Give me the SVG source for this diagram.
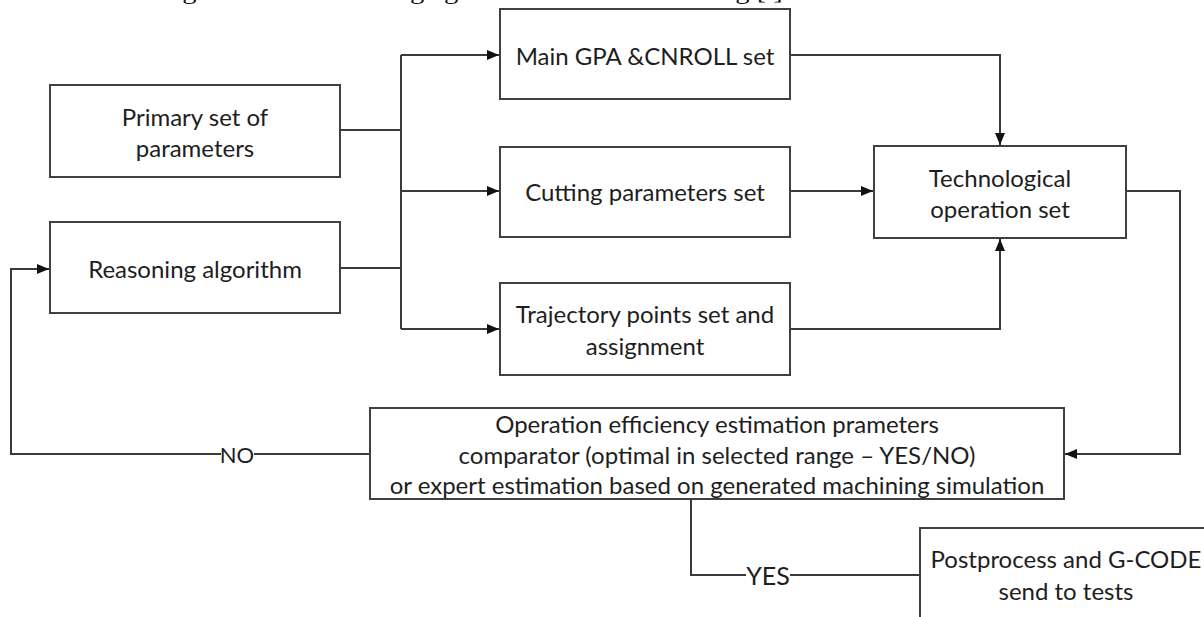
<svg xmlns="http://www.w3.org/2000/svg" width="1204" height="617" viewBox="0 0 1204 617">
<defs>
<style>
.box{fill:#fff;stroke:#404040;stroke-width:2}
.ln{fill:none;stroke:#3a3a3a;stroke-width:2}
.t{font-family:Lato,"Open Sans","Liberation Sans",sans-serif;font-size:24px;fill:#1e1e1e;text-anchor:middle;dominant-baseline:central}
.cap{font-family:"Liberation Serif",serif;font-size:24px;fill:#111}
</style>
<marker id="arr" viewBox="0 0 12 10" refX="12" refY="5" markerWidth="12" markerHeight="10" markerUnits="userSpaceOnUse" orient="auto">
<path d="M0,0 L12,5 L0,10 Z" fill="#111"/>
</marker>
</defs>
<rect width="1204" height="617" fill="#fff"/>
<text class="cap" x="30" y="-1" textLength="760" lengthAdjust="spacingAndGlyphs">manufacturing based on knowledge gained from CNC learning [ ].</text>

<g id="connectors">
<path class="ln" d="M340,130 H401"/>
<path class="ln" d="M340,268 H401"/>
<path class="ln" d="M401,55 V329"/>
<path class="ln" d="M401,55 H499" marker-end="url(#arr)"/>
<path class="ln" d="M401,191 H499" marker-end="url(#arr)"/>
<path class="ln" d="M401,329 H499" marker-end="url(#arr)"/>
<path class="ln" d="M790,55 H1000 V145" marker-end="url(#arr)"/>
<path class="ln" d="M790,191 H873" marker-end="url(#arr)"/>
<path class="ln" d="M790,329 H1000 V239" marker-end="url(#arr)"/>
<path class="ln" d="M1126,191 H1180 V454 H1065" marker-end="url(#arr)"/>
<path class="ln" d="M370,454 H254"/>
<path class="ln" d="M221,454 H11 V269 H49" marker-end="url(#arr)"/>
<text class="t" x="237" y="454" style="font-size:22px">NO</text>
<path class="ln" d="M691,499 V575 H746"/>
<path class="ln" d="M790,575 H920"/>
<text class="t" x="768" y="575" style="font-size:25px">YES</text>
</g>

<g id="primary">
<rect class="box" x="50" y="85" width="290" height="92"/>
<text class="t" x="195" y="116">Primary set of</text>
<text class="t" x="195" y="147">parameters</text>
</g>
<g id="reasoning">
<rect class="box" x="50" y="222" width="290" height="91"/>
<text class="t" x="195" y="268">Reasoning algorithm</text>
</g>
<g id="main">
<rect class="box" x="500" y="9" width="290" height="90"/>
<text class="t" x="645" y="55">Main GPA &amp;CNROLL set</text>
</g>
<g id="cutting">
<rect class="box" x="500" y="147" width="290" height="90"/>
<text class="t" x="645" y="191">Cutting parameters set</text>
</g>
<g id="trajectory">
<rect class="box" x="500" y="283" width="290" height="92"/>
<text class="t" x="645" y="313">Trajectory points set and</text>
<text class="t" x="645" y="345">assignment</text>
</g>
<g id="technological">
<rect class="box" x="874" y="146" width="252" height="92"/>
<text class="t" x="1000" y="177">Technological</text>
<text class="t" x="1000" y="208">operation set</text>
</g>
<g id="comparator">
<rect class="box" x="370" y="408" width="694" height="91"/>
<text class="t" x="717" y="423">Operation efficiency estimation prameters</text>
<text class="t" x="717" y="454">comparator (optimal in selected range – YES/NO)</text>
<text class="t" x="717" y="484">or expert estimation based on generated machining simulation</text>
</g>
<g id="postprocess">
<rect class="box" x="920" y="528" width="300" height="120"/>
<text class="t" x="1066" y="558">Postprocess and G-CODE</text>
<text class="t" x="1066" y="590">send to tests</text>
</g>
</svg>
